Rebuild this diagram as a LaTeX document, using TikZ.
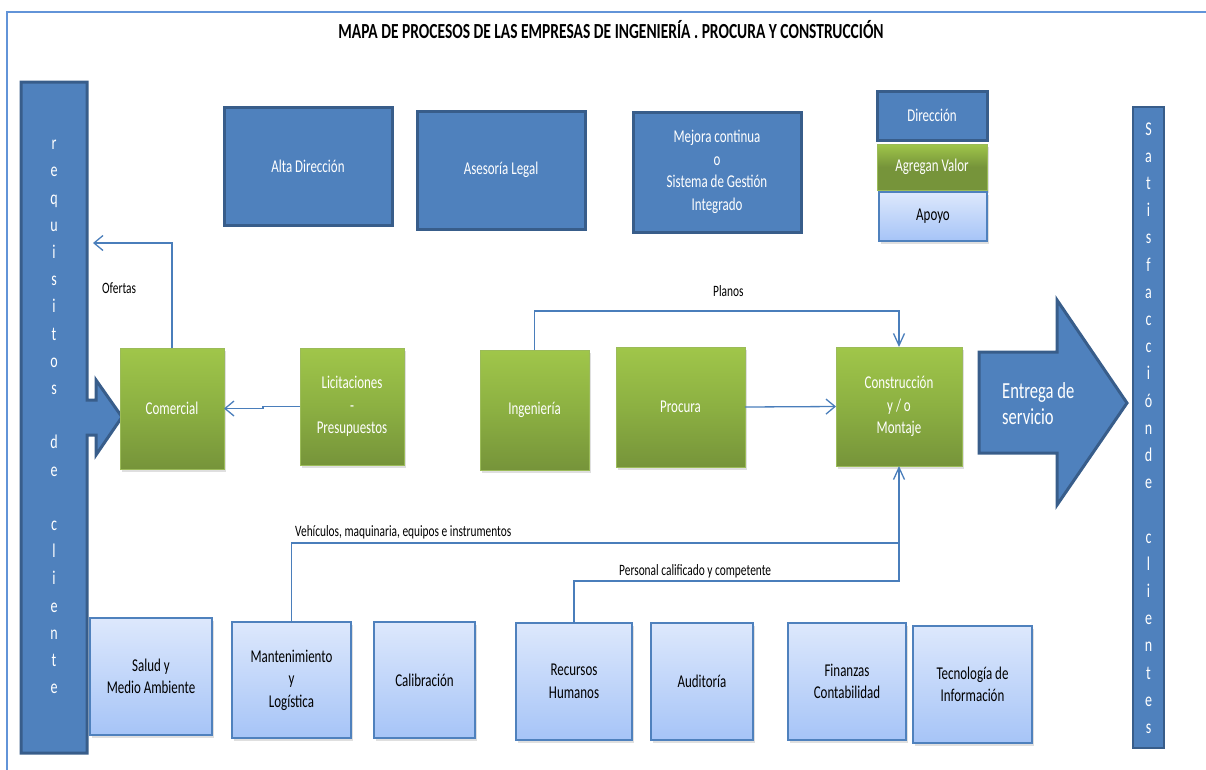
\documentclass[tikz,border=0pt]{standalone}
\usepackage{fontspec}
\setmainfont{Carlito}[FakeStretch=0.72]
\usetikzlibrary{arrows.meta,shadows,calc}

\definecolor{frameblue}{RGB}{98,148,216}
\definecolor{dirfill}{RGB}{79,129,189}
\definecolor{dirline}{RGB}{56,93,138}
\definecolor{lineblue}{RGB}{74,126,187}
\definecolor{greentop}{RGB}{160,198,74}
\definecolor{greenmid}{RGB}{140,176,66}
\definecolor{greenbot}{RGB}{118,148,58}
\definecolor{greenedge}{RGB}{155,187,89}
\definecolor{apotop}{RGB}{221,232,252}
\definecolor{apobot}{RGB}{166,196,247}

\newcommand\mpboxfont{\fontsize{18}{22.5}\selectfont}
\newcommand\mplabelfont{\fontsize{15.8}{18}\selectfont}
\newcommand\mpbarfont{\fontsize{19.5}{27.2}\selectfont}

\begin{document}
\begin{tikzpicture}[x=1pt,y=-1pt,
  dirbox/.style={rectangle, fill=dirfill, draw=dirline, line width=3pt,
    text=white, align=center, inner sep=0pt, outer sep=0pt, font=\mpboxfont},
  valbox/.style={rectangle, top color=greentop, bottom color=greenbot,
    middle color=greenmid, draw=greenedge, line width=0.8pt,
    text=white, align=center, inner sep=0pt, outer sep=0pt, font=\mpboxfont,
    drop shadow={shadow xshift=1.5pt, shadow yshift=-3pt, opacity=0.25}},
  legval/.style={rectangle, top color=greentop, bottom color=greenbot,
    middle color=greenbot, draw=greenedge, line width=0.8pt,
    text=white, align=center, inner sep=0pt, outer sep=0pt, font=\mpboxfont,
    drop shadow={shadow xshift=1.5pt, shadow yshift=-3pt, opacity=0.25}},
  apobox/.style={rectangle, top color=apotop, bottom color=apobot,
    draw=dirfill, line width=1.3pt,
    text=black, align=center, inner sep=0pt, outer sep=0pt, font=\mpboxfont,
    drop shadow={shadow xshift=1.5pt, shadow yshift=-3pt, opacity=0.25}},
  bigshape/.style={fill=dirfill, draw=dirline, line width=3pt, line join=miter},
  bartext/.style={text=white, align=center, inner sep=0pt, font=\mpbarfont},
  lbl/.style={text=black, inner sep=0pt, font=\mplabelfont, anchor=base west},
  conn/.style={draw=lineblue, line width=1.3pt},
  harrow/.style={conn, -{Straight Barb[length=9pt,width=15pt,line width=1.3pt]}},
  varrow/.style={conn, -{Straight Barb[length=12pt,width=11pt,line width=1.3pt]}}
]
\useasboundingbox (0,0) rectangle (1206,769);
\clip (0,0) rectangle (1206,769);

% outer frame
\draw[frameblue, line width=2pt] (1230,12) -- (7,12) -- (7,790);

% title
\node[font=\bfseries\fontsize{21.5}{24}\selectfont, inner sep=0pt] (title) at (611,30)
  {MAPA DE PROCESOS DE LAS EMPRESAS DE INGENIERÍA . PROCURA Y CONSTRUCCIÓN};

% customer requirements bar with its arrow
\draw[bigshape] (21,82) -- (87,82) -- (87,400) -- (96,400) -- (96,380) -- (122,417)
  -- (96,455) -- (96,435) -- (87,435) -- (87,753) -- (21,753) -- cycle;
\node[bartext] (req) at (54,417)
  {r\\e\\q\\u\\i\\s\\i\\t\\o\\s\\[27.2pt]d\\e\\[27.2pt]c\\l\\i\\e\\n\\t\\e};

% customer satisfaction bar
\draw[bigshape, line width=2.5pt] (1133,107) rectangle (1164,748);
\node[bartext] (sat) at (1148.5,428)
  {S\\a\\t\\i\\s\\f\\a\\c\\c\\i\\ó\\n\\d\\e\\[27.2pt]c\\l\\i\\e\\n\\t\\e\\s};

% service delivery arrow
\draw[bigshape] (979,352) -- (1057,352) -- (1057,300) -- (1127,403) -- (1057,505)
  -- (1057,453) -- (979,453) -- cycle;
\node[text=white, align=left, anchor=west, inner sep=0pt,
  font=\fontsize{23}{26}\selectfont] (ent) at (1002,404) {Entrega de\\servicio};

% management processes
\node[dirbox, minimum width=168pt, minimum height=118pt] (alta) at (308,166) {Alta Dirección};
\node[dirbox, minimum width=168pt, minimum height=118pt] (ases) at (501,170) {Asesoría Legal};
\node[dirbox, minimum width=168pt, minimum height=120pt] (mejo) at (717,172)
  {Mejora continua\\o\\Sistema de Gestión\\Integrado};

% legend
\node[dirbox, minimum width=110pt, minimum height=49pt] (ldir) at (932,115.5) {Dirección};
\node[legval, minimum width=110pt, minimum height=46pt] (lval) at (932,167) {Agregan Valor};
\node[apobox, minimum width=108pt, minimum height=49pt] (lapo) at (933,216.5) {Apoyo};

% value-adding processes
\node[valbox, minimum width=104pt, minimum height=121pt] (com) at (172,408.5) {Comercial};
\node[valbox, minimum width=104pt, minimum height=117pt] (lic) at (352,406.5)
  {Licitaciones\\-\\Presupuestos};
\node[valbox, minimum width=109pt, minimum height=120pt] (ing) at (534.5,410) {Ingeniería};
\node[valbox, minimum width=129pt, minimum height=120pt] (pro) at (680.5,407) {Procura};
\node[valbox, minimum width=126pt, minimum height=119pt] (con) at (899,406.5)
  {Construcción\\y / o\\Montaje};

% support processes
\node[apobox, minimum width=122pt, minimum height=117pt] (sal) at (151,676.5)
  {Salud y\\Medio Ambiente};
\node[apobox, minimum width=119pt, minimum height=116pt] (man) at (291.5,680)
  {Mantenimiento\\y\\Logística};
\node[apobox, minimum width=101pt, minimum height=116pt] (cal) at (424.5,680) {Calibración};
\node[apobox, minimum width=116pt, minimum height=117pt] (rh) at (574,681.5)
  {Recursos\\Humanos};
\node[apobox, minimum width=102pt, minimum height=117pt] (aud) at (702,681.5) {Auditoría};
\node[apobox, minimum width=118pt, minimum height=117pt] (fin) at (847,681.5)
  {Finanzas\\Contabilidad};
\node[apobox, minimum width=119pt, minimum height=117pt] (tec) at (972.5,684.5)
  {Tecnología de\\Información};

% connectors
\coordinate (ofEnd) at (93,243);
\draw[harrow] (com.north) |- (ofEnd);
\node[lbl] (lofe) at (102,293) {Ofertas};

\draw[harrow] (lic.west) -- ++(-37,0) |- (com.east);

\draw[varrow] (ing.north) -- ++(0,-39) -| (con.north);
\node[lbl] (lpla) at (713,296) {Planos};

\draw[harrow] (pro.east) -- (con.west);

\coordinate (j1) at (899,543);
\coordinate (j2) at (899,581);
\draw[conn] (man.north) |- (j1);
\draw[conn] (rh.north) |- (j2) -- (j1);
\draw[varrow] (j1) -- (con.south);
\node[lbl] (lveh) at (295,536) {Vehículos, maquinaria, equipos e instrumentos};
\node[lbl] (lper) at (619,575) {Personal calificado y competente};
\end{tikzpicture}
\end{document}
